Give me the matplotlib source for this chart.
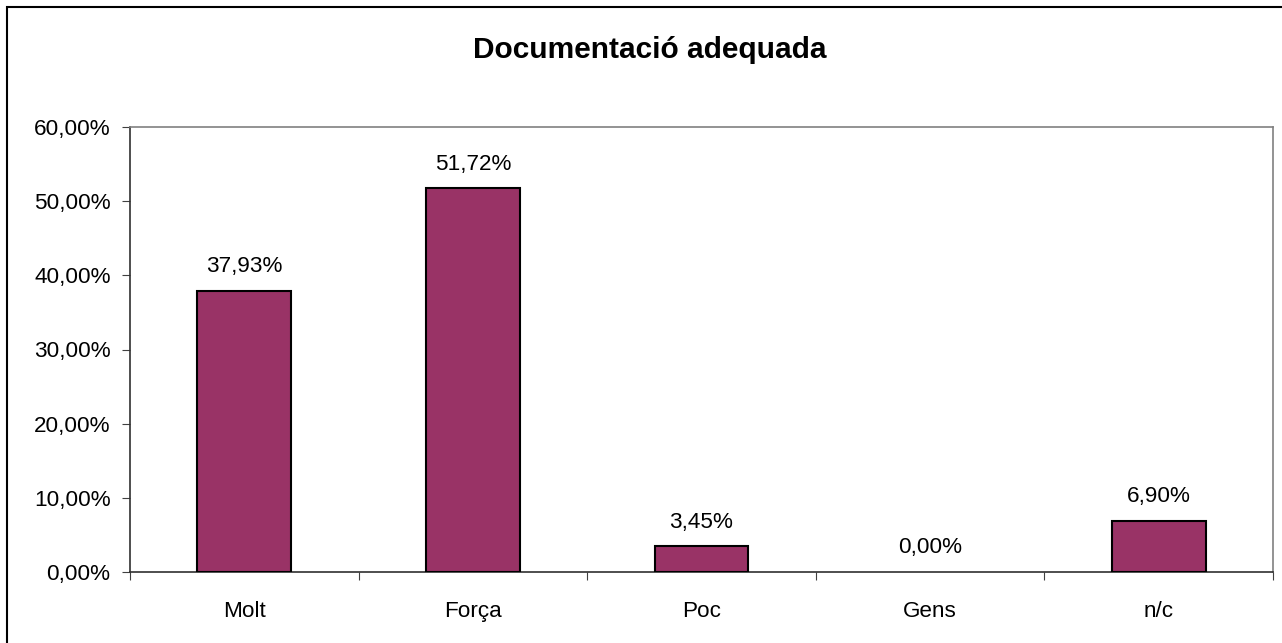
import numpy as np
import matplotlib as mpl
import matplotlib.pyplot as plt
from matplotlib.patches import Rectangle

mpl.rcParams['font.family'] = ['Liberation Sans', 'DejaVu Sans']

categories = ['Molt', 'Força', 'Poc', 'Gens', 'n/c']
values = [37.93, 51.72, 3.45, 0.00, 6.90]
yticks = [0, 10, 20, 30, 40, 50, 60]
title = 'Documentació adequada'

fs = 16.2
W, H = 1282, 643
fig = plt.figure(figsize=(W / 100, H / 100), dpi=100)
ax = fig.add_axes([130 / W, 1 - 572 / H, (1273 - 130) / W, (572 - 127) / H])

x = np.arange(len(categories))
edges = ['black' if v > 0 else 'none' for v in values]
ax.bar(x, values, width=0.41, color='#993366', edgecolor=edges, linewidth=1.5, zorder=3)

for xi, v in zip(x, values):
    ax.annotate(f"{v:.2f}%".replace('.', ','), (xi, v), xytext=(0, 10),
                textcoords='offset points', ha='center', va='bottom', fontsize=fs)

ax.set_xlim(-0.5, len(categories) - 0.5)
ax.set_ylim(0, 60)
ax.set_yticks(yticks)
ax.set_yticklabels([f"{t:.2f}%".replace('.', ',') for t in yticks], fontsize=fs)

# category labels between boundary ticks
ax.set_xticks(np.arange(len(categories) + 1) - 0.5)
ax.set_xticklabels([])
ax.set_xticks(x, minor=True)
ax.set_xticklabels(categories, minor=True, fontsize=fs)
ax.tick_params(axis='x', which='minor', length=0, pad=21)
ax.tick_params(axis='x', which='major', direction='out', length=6, color='#404040')
ax.tick_params(axis='y', direction='out', length=6, color='#404040', pad=8)

for s in ['left', 'bottom']:
    ax.spines[s].set_color('#303030')
    ax.spines[s].set_linewidth(1.2)
for s in ['top', 'right']:
    ax.spines[s].set_color('#808080')
    ax.spines[s].set_linewidth(1.2)

fig.text(650 / W, 1 - 50 / H, title, ha='center', va='center',
         fontsize=21.5, fontweight='bold')

# outer chart border
fig.patches.append(Rectangle((7 / W, -0.05), 1.1, 1 - 7 / H + 0.05,
                             transform=fig.transFigure, fill=False,
                             edgecolor='black', linewidth=1.5))

fig.savefig('out.png', dpi=100)
